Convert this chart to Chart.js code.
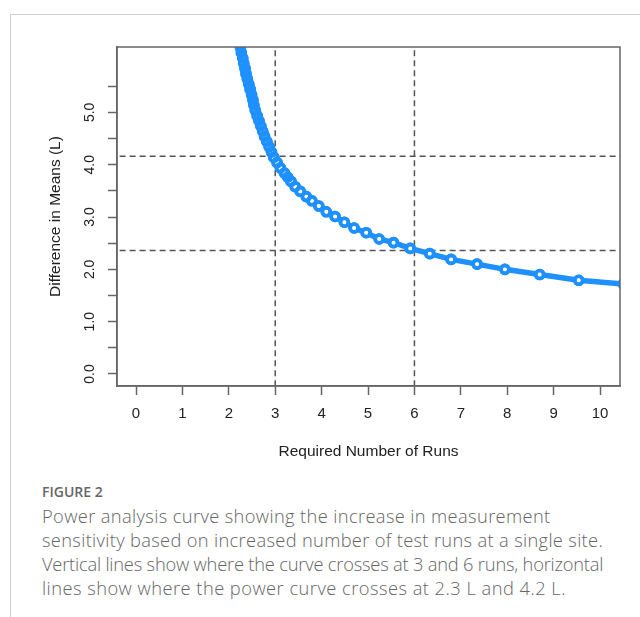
<!DOCTYPE html>
<html>
<head>
<meta charset="utf-8">
<script src="https://cdn.jsdelivr.net/npm/chart.js@4/dist/chart.umd.min.js"></script>
<style>
  html, body { margin: 0; padding: 0; background: #fff; }
  body { width: 640px; height: 617px; position: relative; overflow: hidden; }
  #card { position: absolute; left: 10px; top: 14px; width: 640px; height: 620px;
          border-left: 1px solid #cfcfcf; border-top: 1px solid #cfcfcf; }
  #wrap { position: absolute; left: 0; top: 0; width: 640px; height: 470px; }
  #caption { position: absolute; left: 42px; top: 482px; width: 598px; white-space: nowrap;
             font-family: "Open Sans", sans-serif; color: #666; }
  #caption .fig { font-size: 14px; font-weight: 600; line-height: 20px; }
  #caption .txt { font-size: 18.3px; font-weight: 300; line-height: 24px; margin-top: 2px; }
  #caption .txt span { display: block; }
</style>
</head>
<body>
<div id="card"></div>
<div id="wrap"><canvas id="grafico"></canvas></div>
<div id="caption">
  <div class="fig">FIGURE 2</div>
  <div class="txt"><span style="letter-spacing:0.37px">Power analysis curve showing the increase in measurement</span><span style="letter-spacing:0.33px">sensitivity based on increased number of test runs at a single site.</span><span style="letter-spacing:-0.2px">Vertical lines show where the curve crosses at 3 and 6 runs, horizontal</span><span style="letter-spacing:0.47px">lines show where the power curve crosses at 2.3 L and 4.2 L.</span></div>
</div>
<script>
// valores
const corridas = [2.20, 2.22, 2.25, 2.27, 2.30, 2.32, 2.35, 2.37, 2.40, 2.43, 2.46, 2.49, 2.52,
    2.54, 2.57, 2.61, 2.65, 2.69, 2.73, 2.77, 2.82, 2.87, 2.92, 2.97, 3.04,
    3.11, 3.20, 3.27, 3.34, 3.43, 3.54, 3.67, 3.79, 3.94, 4.10, 4.29, 4.49, 4.70,
    4.96, 5.24, 5.55, 5.91, 6.33, 6.79, 7.35, 7.95, 8.70, 9.54, 10.50];
const diferencas = [6.44, 6.34, 6.24, 6.14, 6.04, 5.94, 5.84, 5.74, 5.64, 5.54, 5.44, 5.34, 5.24,
    5.14, 5.04, 4.94, 4.84, 4.74, 4.64, 4.54, 4.44, 4.34, 4.24, 4.14, 4.04,
    3.94, 3.84, 3.76, 3.68, 3.58, 3.49, 3.39, 3.31, 3.21, 3.10, 3.01, 2.90, 2.79,
    2.70, 2.58, 2.51, 2.40, 2.30, 2.19, 2.10, 2.00, 1.90, 1.79, 1.72];
const linhasVerticais = [3, 6];
const linhasHorizontais = [2.36, 4.16];
const ticksX = [0, 1, 2, 3, 4, 5, 6, 7, 8, 9, 10];
const ticksY = [0, 0.5, 1, 1.5, 2, 2.5, 3, 3.5, 4, 4.5, 5, 5.5];

const azul = '#1E90FF';
const cinza = '#555';
const fonteEixo = 'Liberation Sans, Arial, sans-serif';

const pontos = corridas.map((c, i) => ({x: c, y: diferencas[i]}));

const datasets = [];
linhasVerticais.forEach(v => {
    datasets.push({
        data: [{x: v, y: -1}, {x: v, y: 7}],
        borderColor: cinza, borderWidth: 1.5, borderDash: [6, 4],
        pointRadius: 0, showLine: true, order: 3
    });
});
linhasHorizontais.forEach(v => {
    datasets.push({
        data: [{x: -1, y: v}, {x: 11, y: v}],
        borderColor: cinza, borderWidth: 1.5, borderDash: [6, 4],
        pointRadius: 0, showLine: true, order: 3
    });
});
// curva com pontos de centro branco
datasets.push({
    data: pontos,
    borderColor: azul, borderWidth: 5.5, showLine: true,
    pointRadius: 4, pointBorderWidth: 3.6,
    pointBorderColor: azul, pointBackgroundColor: '#fff', order: 2
});
// aneis por cima (como o R, sem preenchimento)
datasets.push({
    data: pontos,
    showLine: false,
    pointRadius: 4, pointBorderWidth: 3.6,
    pointBorderColor: azul, pointBackgroundColor: 'rgba(0,0,0,0)', order: 1
});

// caixa em volta da area do grafico
const caixa = {
    id: 'caixa',
    afterDraw(chart) {
        const a = chart.chartArea;
        const ctx = chart.ctx;
        ctx.save();
        ctx.strokeStyle = '#666';
        ctx.lineWidth = 1.5;
        ctx.strokeRect(a.left, a.top, a.right - a.left, a.bottom - a.top);
        ctx.restore();
    }
};

new Chart(document.getElementById('grafico'), {
    type: 'scatter',
    data: {datasets: datasets},
    plugins: [caixa],
    options: {
        responsive: true,
        maintainAspectRatio: false,
        animation: false,
        layout: {padding: {top: 47, right: 20, left: 30, bottom: 4}},
        plugins: {legend: {display: false}, tooltip: {enabled: false}},
        scales: {
            x: {
                type: 'linear', min: -0.41, max: 10.43,
                afterBuildTicks: s => { s.ticks = ticksX.map(v => ({value: v})); },
                afterFit: s => { s.height = 80; },
                ticks: {autoSkip: false, maxRotation: 0, padding: 10, color: '#222',
                        font: {family: fonteEixo, size: 15}},
                grid: {drawOnChartArea: false, tickLength: 9, color: '#666', tickWidth: 1.5},
                border: {color: '#666', width: 1.5},
                title: {display: true, text: 'Required Number of Runs', color: '#222',
                        font: {family: fonteEixo, size: 15.5}, padding: {bottom: 5}}
            },
            y: {
                type: 'linear', min: -0.23, max: 6.25,
                afterBuildTicks: s => { s.ticks = ticksY.map(v => ({value: v})); },
                afterFit: s => { s.width = 87; },
                ticks: {autoSkip: false, minRotation: 90, maxRotation: 90, crossAlign: 'center',
                        padding: 8, color: '#222', font: {family: fonteEixo, size: 14},
                        callback: v => Number.isInteger(v) ? v.toFixed(1) : ''},
                grid: {drawOnChartArea: false, tickLength: 9, color: '#666', tickWidth: 1.5},
                border: {color: '#666', width: 1.5},
                title: {display: true, text: 'Difference in Means (L)', color: '#222',
                        font: {family: fonteEixo, size: 15.5}, padding: {top: 16}}
            }
        }
    }
});
</script>
</body>
</html>
